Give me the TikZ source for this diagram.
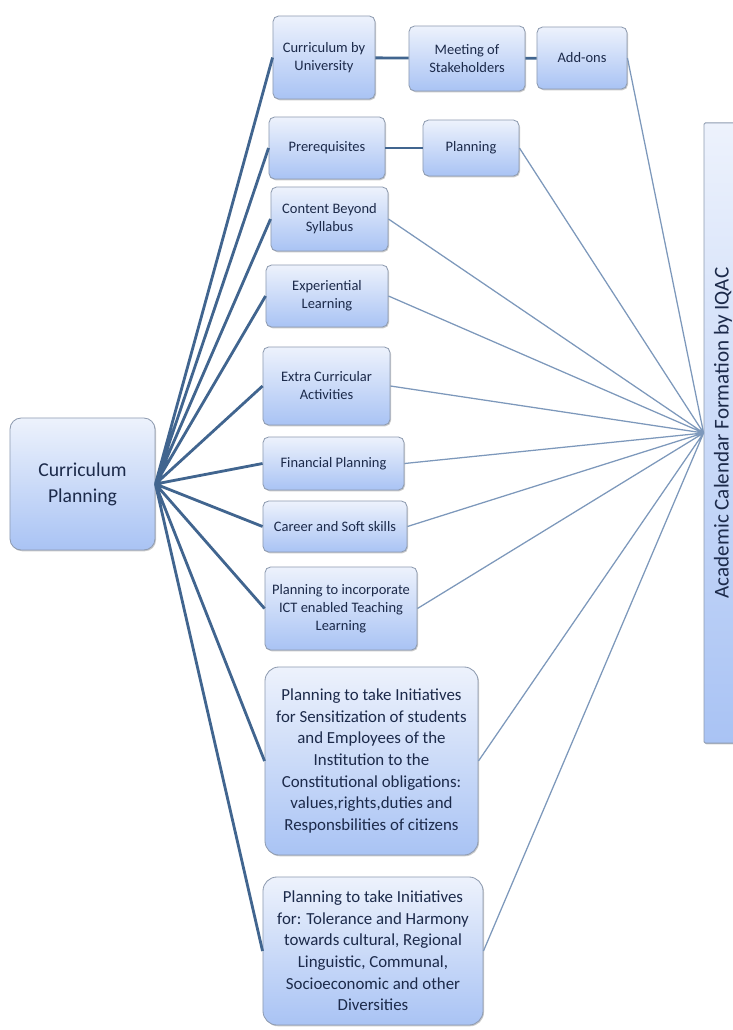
\documentclass[tikz,border=0pt]{standalone}
\usepackage{fontspec}
\setmainfont{Carlito}
\usepackage{tikz}
\usetikzlibrary{shadows}
\definecolor{boxtop}{HTML}{EDF2FC}
\definecolor{boxbot}{HTML}{A9C3F4}
\definecolor{boxline}{HTML}{8E9BB0}
\definecolor{inkblue}{HTML}{1C2A4A}
\definecolor{fanblue}{HTML}{41658F}
\definecolor{calblue}{HTML}{7D98BB}
\tikzset{
  topic/.style={draw=boxline, line width=0.6pt, rounded corners=4pt, align=center, inner sep=2pt,
    top color=boxtop, bottom color=boxbot, text=inkblue, font=\fontsize{10.3}{12.8}\selectfont,
    drop shadow={shadow xshift=0.7pt, shadow yshift=-0.9pt, opacity=0.35, fill=black!60}},
  bigtopic/.style={topic, rounded corners=10pt, font=\fontsize{12}{15.4}\selectfont},
  roottopic/.style={topic, rounded corners=8pt, font=\fontsize{14}{18.5}\selectfont},
  calbar/.style={topic, rounded corners=1pt, rotate=90, font=\fontsize{15}{18}\selectfont},
  fanline/.style={draw=fanblue, line width=2pt},
  calline/.style={draw=calblue, line width=0.9pt}
}

\begin{document}
\begin{tikzpicture}[x=0.025cm, y=-0.025cm]
  \useasboundingbox (0,0) rectangle (732,1030);

  % left root and right calendar bar
  \node[roottopic, minimum width=3.625cm, minimum height=3.3cm] (root) at (82.5,484) {Curriculum\\Planning};
  \node[calbar, minimum width=15.5cm, minimum height=0.95cm] (iqac) at (723,433) {Academic Calendar Formation by IQAC};

  % middle column
  \node[topic, minimum width=2.55cm, minimum height=2.075cm] (univ) at (324,57.5) {Curriculum by\\University};
  \node[topic, minimum width=2.9cm, minimum height=1.625cm] (meet) at (467,58.5) {Meeting of\\Stakeholders};
  \node[topic, minimum width=2.25cm, minimum height=1.55cm] (addon) at (582,58) {Add-ons};
  \node[topic, minimum width=2.9cm, minimum height=1.55cm] (prereq) at (327,148) {Prerequisites};
  \node[topic, minimum width=2.4cm, minimum height=1.4cm] (plan) at (471,148) {Planning};
  \node[topic, minimum width=2.925cm, minimum height=1.6cm] (beyond) at (329.5,219) {Content Beyond\\Syllabus};
  \node[topic, minimum width=3.05cm, minimum height=1.55cm] (exper) at (327,296) {Experiential\\Learning};
  \node[topic, minimum width=3.175cm, minimum height=1.95cm] (extra) at (326.5,386) {Extra Curricular\\Activities};
  \node[topic, minimum width=3.525cm, minimum height=1.325cm] (fin) at (333.5,463.5) {Financial Planning};
  \node[topic, minimum width=3.6cm, minimum height=1.275cm] (career) at (335,526.5) {Career and Soft skills};
  \node[topic, minimum width=3.8cm, minimum height=2.075cm] (ict) at (341,608.5) {Planning to incorporate\\ICT enabled Teaching\\Learning};
  \node[bigtopic, minimum width=5.325cm, minimum height=4.7cm] (sens) at (371.5,761) {Planning to take Initiatives\\for Sensitization of students\\and Employees of the\\Institution to the\\Constitutional obligations:\\values,rights,duties and\\Responsbilities of citizens};
  \node[bigtopic, minimum width=5.5cm, minimum height=3.7cm] (toler) at (373,951) {Planning to take Initiatives\\for: Tolerance and Harmony\\towards cultural, Regional\\Linguistic, Communal,\\Socioeconomic and other\\Diversities};

  % fan from the root
  \draw[fanline] (root.east) -- (univ.west)   (root.east) -- (prereq.west)
                 (root.east) -- (beyond.west) (root.east) -- (exper.west)
                 (root.east) -- (extra.west)  (root.east) -- (fin.west)
                 (root.east) -- (career.west) (root.east) -- (ict.west)
                 (root.east) -- (sens.west)   (root.east) -- (toler.west);
  \draw[fanline] (univ) -- (meet);
  \draw[fanline] (meet) -- (addon);
  \draw[fanline] (prereq) -- (plan);

  % lines into the calendar bar
  \draw[calline] (addon.east) -- (iqac.north)  (plan.east) -- (iqac.north)
                 (beyond.east) -- (iqac.north) (exper.east) -- (iqac.north)
                 (extra.east) -- (iqac.north)  (fin.east) -- (iqac.north)
                 (career.east) -- (iqac.north) (ict.east) -- (iqac.north)
                 (sens.east) -- (iqac.north)   (toler.east) -- (iqac.north);
\end{tikzpicture}
\end{document}
